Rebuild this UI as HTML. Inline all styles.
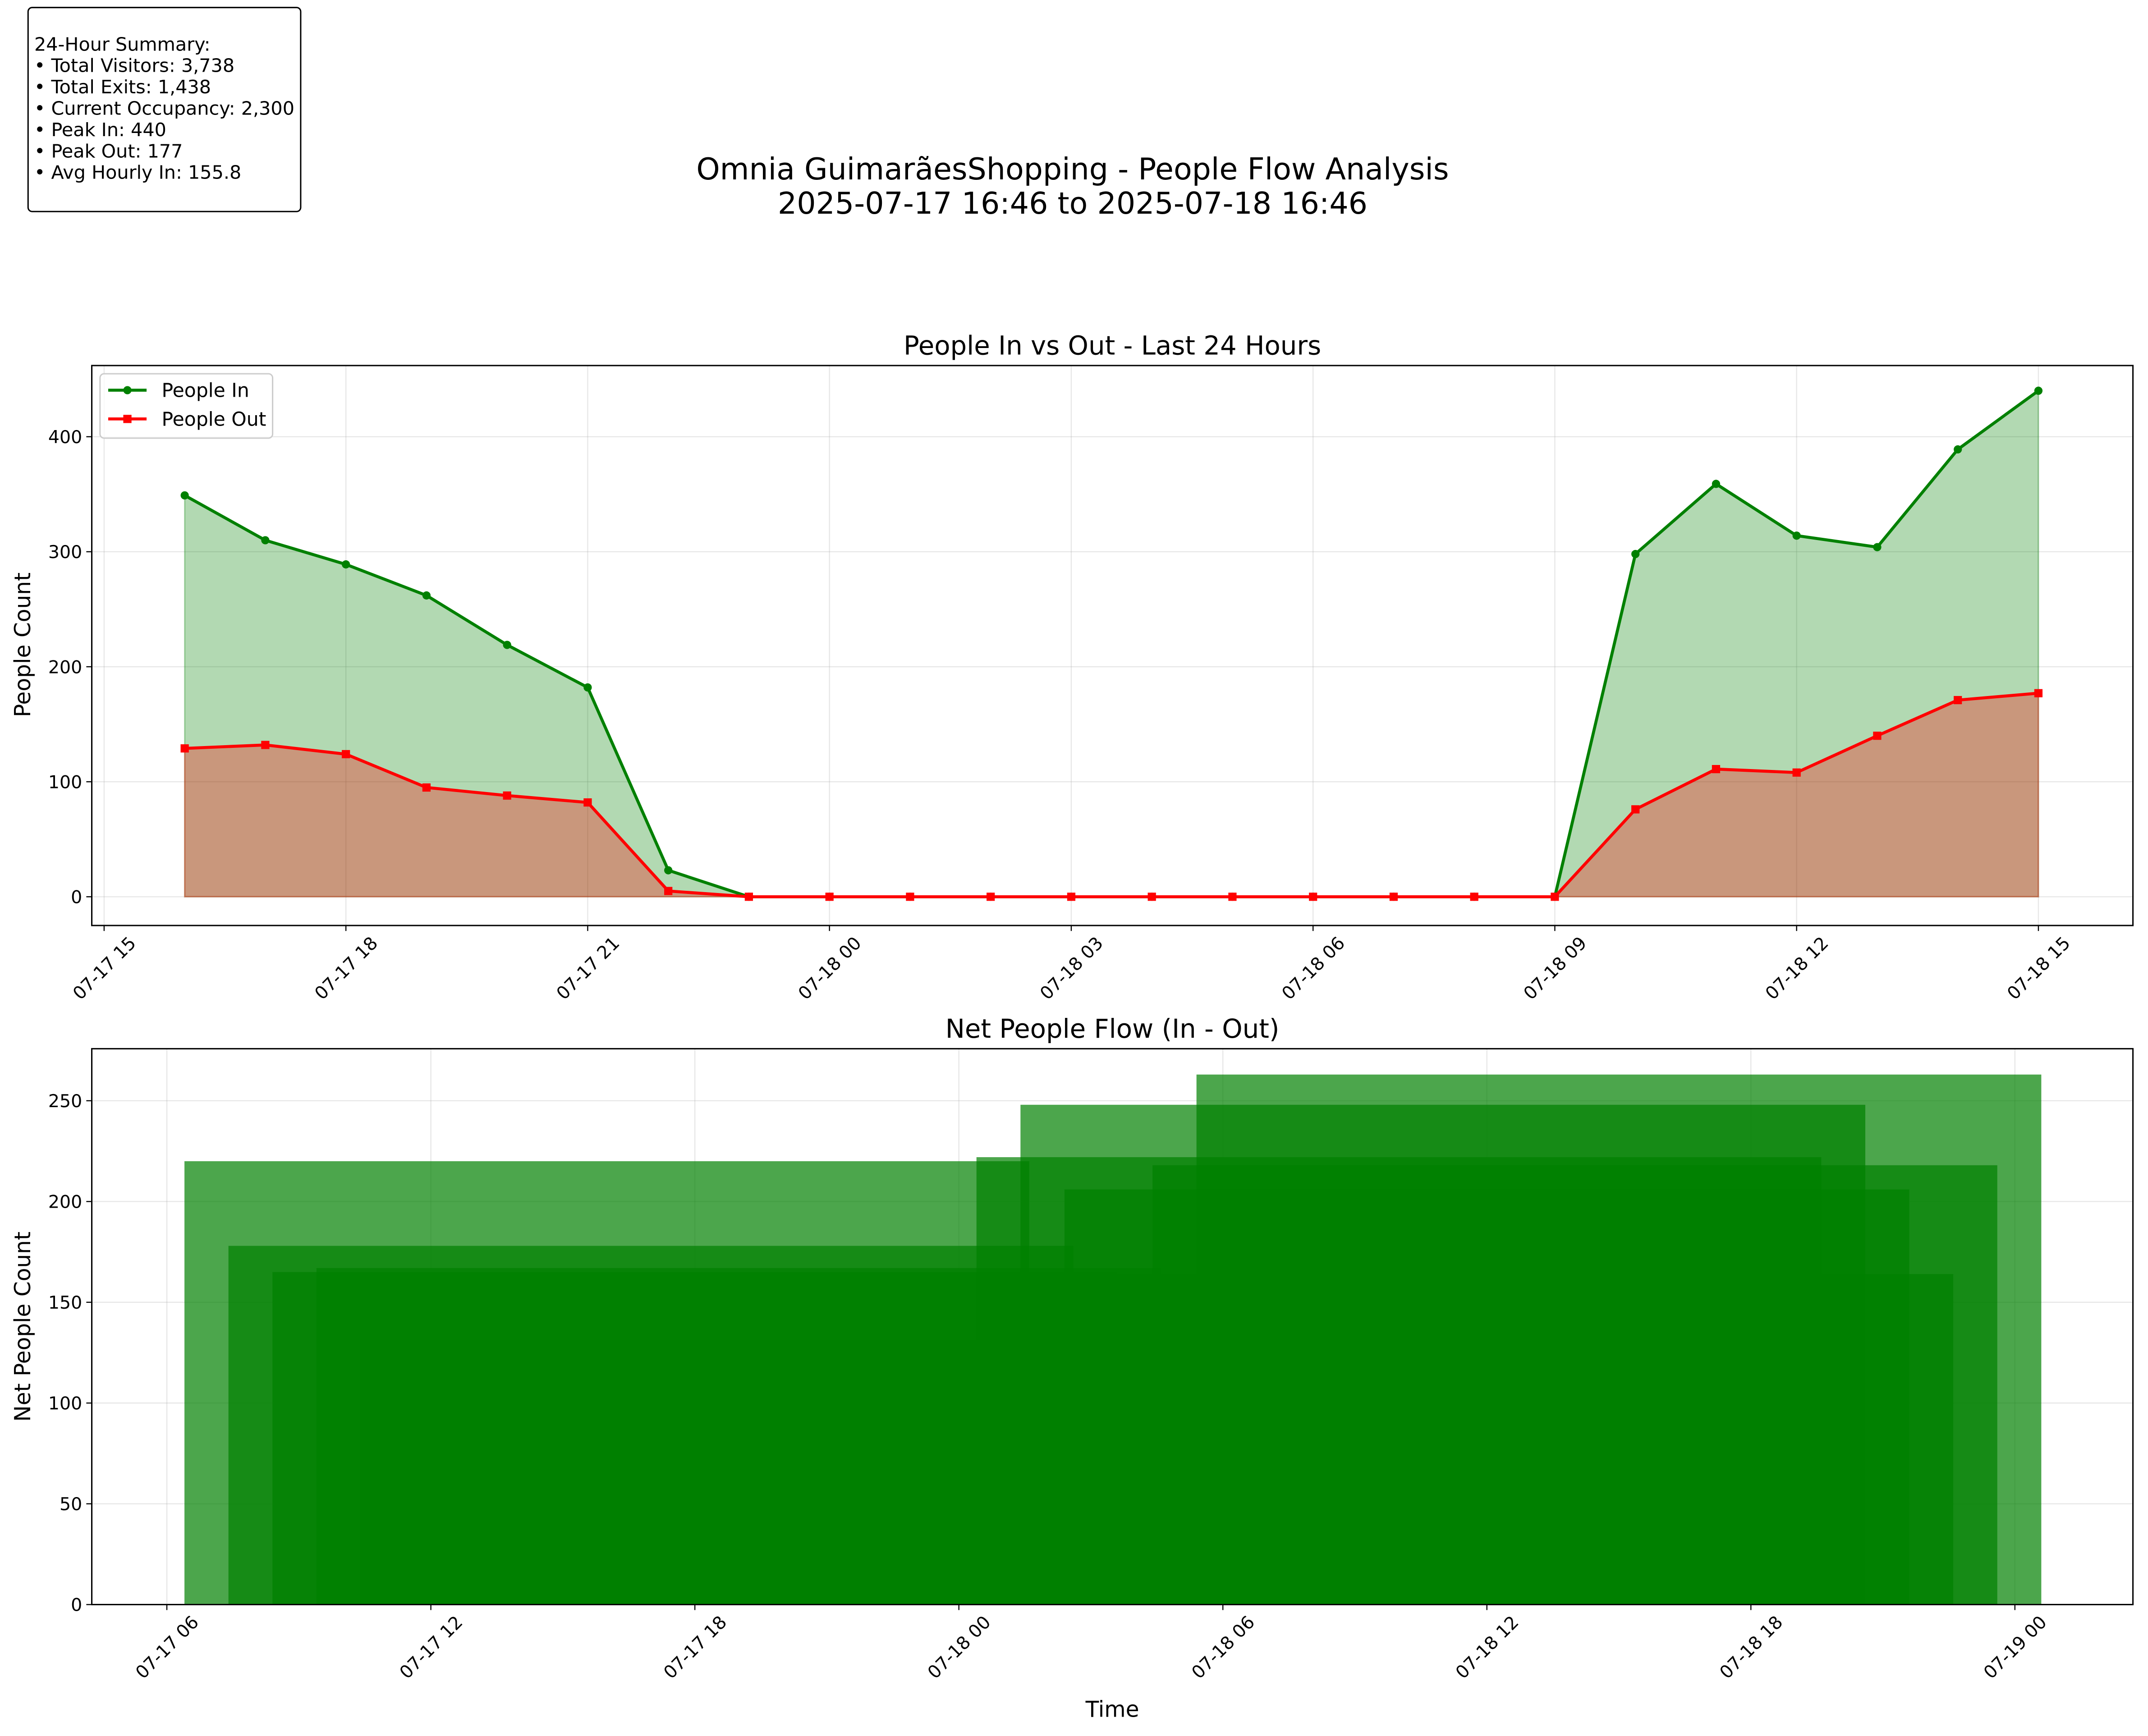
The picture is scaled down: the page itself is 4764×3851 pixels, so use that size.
<!DOCTYPE html>
<html><head><meta charset="utf-8"><style>
html,body{margin:0;padding:0;background:#fff}
svg{display:block;font-family:"DejaVu Sans","Liberation Sans",sans-serif}
</style></head><body>
<svg id="fig" width="4764" height="3851" viewBox="0 0 1568 1268" preserveAspectRatio="none" xmlns="http://www.w3.org/2000/svg">
<rect width="1568" height="1268" fill="#fff"/>
<g>
<rect x="20.5" y="5.5" width="199" height="149" rx="3" fill="#fff" stroke="#000" stroke-width="1"/>
<text x="25" y="37" font-size="13.6" fill="#000">
<tspan x="25" dy="0">24-Hour Summary:</tspan>
<tspan x="25" dy="15.6">• Total Visitors: 3,738</tspan>
<tspan x="25" dy="15.6">• Total Exits: 1,438</tspan>
<tspan x="25" dy="15.6">• Current Occupancy: 2,300</tspan>
<tspan x="25" dy="15.6">• Peak In: 440</tspan>
<tspan x="25" dy="15.6">• Peak Out: 177</tspan>
<tspan x="25" dy="15.6">• Avg Hourly In: 155.8</tspan>
</text></g>
<text x="783" y="131" font-size="21.9" text-anchor="middle">Omnia GuimarãesShopping - People Flow Analysis</text>
<text x="783" y="156" font-size="21.9" text-anchor="middle">2025-07-17 16:46 to 2025-07-18 16:46</text>
<g id="top"></g>
<g id="bottom"></g>
</svg>
<script>
const hoursIn = [349,310,289,262,219,182,23,0,0,0,0,0,0,0,0,0,0,0,298,359,314,304,389,440];
const hoursOut = [129,132,124,95,88,82,5,0,0,0,0,0,0,0,0,0,0,0,76,111,108,140,171,177];
const startHour = 16; // 07-17 16:00
const topXTicks = ["07-17 15","07-17 18","07-17 21","07-18 00","07-18 03","07-18 06","07-18 09","07-18 12","07-18 15"];
const topYTicks = [0,100,200,300,400];
const botXTicks = ["07-17 06","07-17 12","07-17 18","07-18 00","07-18 06","07-18 12","07-18 18","07-19 00"];
const botYTicks = [0,50,100,150,200,250];

const NS="http://www.w3.org/2000/svg";
function mk(parent,tag,attrs,text){const e=document.createElementNS(NS,tag);for(const k in attrs)e.setAttribute(k,attrs[k]);if(text!==undefined)e.textContent=text;parent.appendChild(e);return e;}
function xlabel(parent,x,axisY,lab,name){const cy=axisY+31;
 const t=mk(parent,'text',{x:x,y:cy+4.7,'font-size':13,'text-anchor':'middle',transform:`rotate(-45 ${x} ${cy})`},lab);
 }

// ---- top chart ----
const T=document.getElementById('top');
const tL=67,tR=1557,tT=267,tB=676;
const tx=h=>76+(h-15)*(1412/24);
const ty=v=>655-v*0.84;
let r=mk(T,'rect',{x:tL,y:tT,width:tR-tL,height:tB-tT,fill:'#fff'});

topXTicks.forEach((lab,i)=>{const x=tx(15+3*i);
 mk(T,'line',{x1:x,x2:x,y1:tT,y2:tB,stroke:'#b0b0b0','stroke-opacity':0.3,'stroke-width':0.8});
 mk(T,'line',{x1:x,x2:x,y1:tB,y2:tB+4,stroke:'#000','stroke-width':0.8});
 xlabel(T,x,tB,lab,'top-x-tick-label');});
topYTicks.forEach(v=>{const y=ty(v);
 mk(T,'line',{x1:tL,x2:tR,y1:y,y2:y,stroke:'#b0b0b0','stroke-opacity':0.3,'stroke-width':0.8});
 mk(T,'line',{x1:tL-4,x2:tL,y1:y,y2:y,stroke:'#000','stroke-width':0.8});
 const t=mk(T,'text',{x:tL-7,y:y+4.7,'font-size':13,'text-anchor':'end'},v);
 });
function pts(arr){return arr.map((v,i)=>[tx(startHour+i),ty(v)]);}
function area(arr,color,name){const p=pts(arr);const d='M'+p[0][0]+','+ty(0)+' '+p.map(q=>'L'+q[0]+','+q[1]).join(' ')+' L'+p[p.length-1][0]+','+ty(0)+'Z';
 const e=mk(T,'path',{d,fill:color,'fill-opacity':0.3,stroke:color,'stroke-opacity':0.3});}
area(hoursIn,'#008000','people-in-area');area(hoursOut,'#ff0000','people-out-area');
function line(arr,color,name,marker){const p=pts(arr);
 const e=mk(T,'polyline',{points:p.map(q=>q.join(',')).join(' '),fill:'none',stroke:color,'stroke-width':2.2,'stroke-linejoin':'round'});
 
 p.forEach(q=>{let m;if(marker==='o')m=mk(T,'circle',{cx:q[0],cy:q[1],r:3,fill:color});else m=mk(T,'rect',{x:q[0]-3,y:q[1]-3,width:6,height:6,fill:color});
  });}
line(hoursIn,'#008000','people-in-line','o');line(hoursOut,'#ff0000','people-out-line','s');
mk(T,'rect',{x:tL,y:tT,width:tR-tL,height:tB-tT,fill:'none',stroke:'#000','stroke-width':1});
r=mk(T,'text',{x:812,y:259,'font-size':19,'text-anchor':'middle'},'People In vs Out - Last 24 Hours');
r=mk(T,'text',{x:22,y:471,'font-size':16,'text-anchor':'middle',transform:'rotate(-90 22 471)'},'People Count');
const lg=mk(T,'g',{});
mk(lg,'rect',{x:73,y:273,width:126,height:47,rx:3,fill:'#fff','fill-opacity':0.8,stroke:'#ccc'});
mk(lg,'line',{x1:79,x2:107,y1:285,y2:285,stroke:'#008000','stroke-width':2.2});mk(lg,'circle',{cx:93,cy:285,r:3,fill:'#008000'});
mk(lg,'text',{x:118,y:290,'font-size':14},'People In');
mk(lg,'line',{x1:79,x2:107,y1:306,y2:306,stroke:'#ff0000','stroke-width':2.2});mk(lg,'rect',{x:90,y:303,width:6,height:6,fill:'#ff0000'});
mk(lg,'text',{x:118,y:311,'font-size':14},'People Out');

// ---- bottom chart ----
const B=document.getElementById('bottom');
const bL=67,bR=1557,bT=766,bB=1172;
const bx=h=>121.8+(h-6)*32.12;
const by=v=>1172-v*(368/250);
botXTicks.forEach((lab,i)=>{const x=bx(6+6*i);
 mk(B,'line',{x1:x,x2:x,y1:bT,y2:bB,stroke:'#b0b0b0','stroke-opacity':0.3,'stroke-width':0.8});
 mk(B,'line',{x1:x,x2:x,y1:bB,y2:bB+4,stroke:'#000','stroke-width':0.8});
 xlabel(B,x,bB,lab,'bottom-x-tick-label');});
botYTicks.forEach(v=>{const y=by(v);
 mk(B,'line',{x1:bL,x2:bR,y1:y,y2:y,stroke:'#b0b0b0','stroke-opacity':0.3,'stroke-width':0.8});
 mk(B,'line',{x1:bL-4,x2:bL,y1:y,y2:y,stroke:'#000','stroke-width':0.8});
 const t=mk(B,'text',{x:bL-7,y:y+4.7,'font-size':13,'text-anchor':'end'},v);
 });
hoursIn.forEach((v,i)=>{const net=v-hoursOut[i];const c=startHour+i;
 const x0=bx(c-9.6),x1=bx(c+9.6);const y0=by(Math.max(net,0)),y1=by(Math.min(net,0));
 const b=mk(B,'rect',{x:x0,y:y0,width:x1-x0,height:Math.max(0,y1-y0),fill:net>=0?'#008000':'#ff0000','fill-opacity':0.7});
 });
mk(B,'rect',{x:bL,y:bT,width:bR-bL,height:bB-bT,fill:'none',stroke:'#000','stroke-width':1});
r=mk(B,'text',{x:812,y:758,'font-size':19,'text-anchor':'middle'},'Net People Flow (In - Out)');
r=mk(B,'text',{x:22,y:969,'font-size':16,'text-anchor':'middle',transform:'rotate(-90 22 969)'},'Net People Count');
r=mk(B,'text',{x:812,y:1254,'font-size':16,'text-anchor':'middle'},'Time');
</script>
</body></html>
